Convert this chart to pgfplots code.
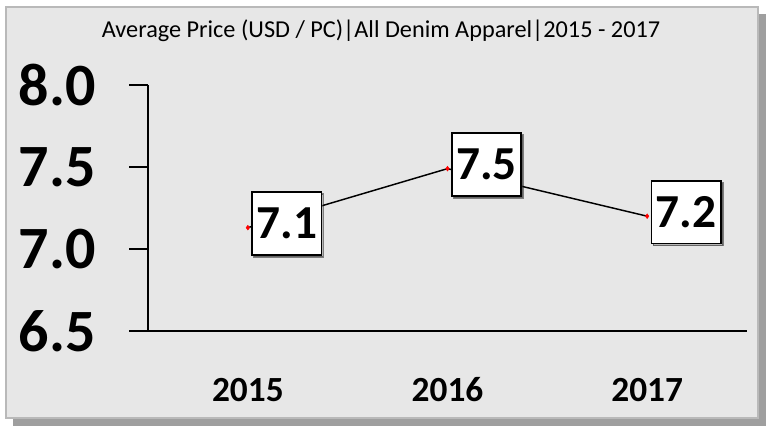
\documentclass[border=0pt]{standalone}
\usepackage{pgfplots}
\pgfplotsset{compat=1.18}
\usepackage{fontspec}
\setmainfont{Carlito}
\usetikzlibrary{shadows}
\definecolor{panel}{RGB}{231,231,231}
\begin{document}
\begin{tikzpicture}
\begin{scope}[x=0.75pt,y=0.75pt]
\useasboundingbox (0,0) rectangle (768,428);
\fill[white] (0,0) rectangle (768,428);
\fill[gray!75] (13,2) rectangle (766,414);
\fill[panel] (6,10) rectangle (758,421);
\draw[gray!55, line width=1.5pt] (6,10) rectangle (758,421);
\node[font=\fontsize{18.2}{21}\selectfont, anchor=base, inner sep=0pt] at (381,390) {Average Price (USD / PC)|All Denim Apparel|2015 - 2017};
\end{scope}
\begin{axis}[
  at={(111pt,72.75pt)}, anchor=south west, scale only axis,
  width=449.25pt, height=184.5pt,
  xmin=-0.5, xmax=2.5, ymin=6.5, ymax=8.0,
  clip=false,
  axis x line=bottom, axis y line=left,
  axis line style={-, black, line width=1.1pt},
  xtick={0,1,2}, xticklabels={2015,2016,2017},
  ytick={6.5,7.0,7.5,8.0},
  tick align=outside,
  major tick length=14pt,
  xtick style={draw=none},
  ytick style={black, line width=1.1pt},
  /pgf/number format/.cd, fixed, fixed zerofill, precision=1, assume math mode=true,
  /pgfplots/.cd,
  yticklabel style={font=\fontsize{45}{50}\selectfont\bfseries, anchor=east, inner sep=0pt, xshift=-25pt},
  xticklabel style={font=\fontsize{26.5}{30}\selectfont\bfseries, anchor=base, inner sep=0pt, yshift=-39pt},
]
\addplot[black, line width=1.1pt, mark=diamond*, mark size=1.8pt,
  mark options={red, fill=red, line width=0.3pt},
  nodes near coords, point meta=explicit symbolic,
  every node near coord/.append style={anchor=west, xshift=2.5pt, yshift=3pt, fill=white, draw=black,
    line width=1.3pt, drop shadow={shadow xshift=1.5pt, shadow yshift=-1.5pt, opacity=0.45},
    font=\fontsize{35.5}{40}\selectfont\bfseries, text=black,
    minimum height=47pt, inner xsep=3.3pt}]
coordinates {(0,7.13) [7.1] (1,7.49) [7.5] (2,7.20) [7.2]};
\end{axis}
\end{tikzpicture}
\end{document}
